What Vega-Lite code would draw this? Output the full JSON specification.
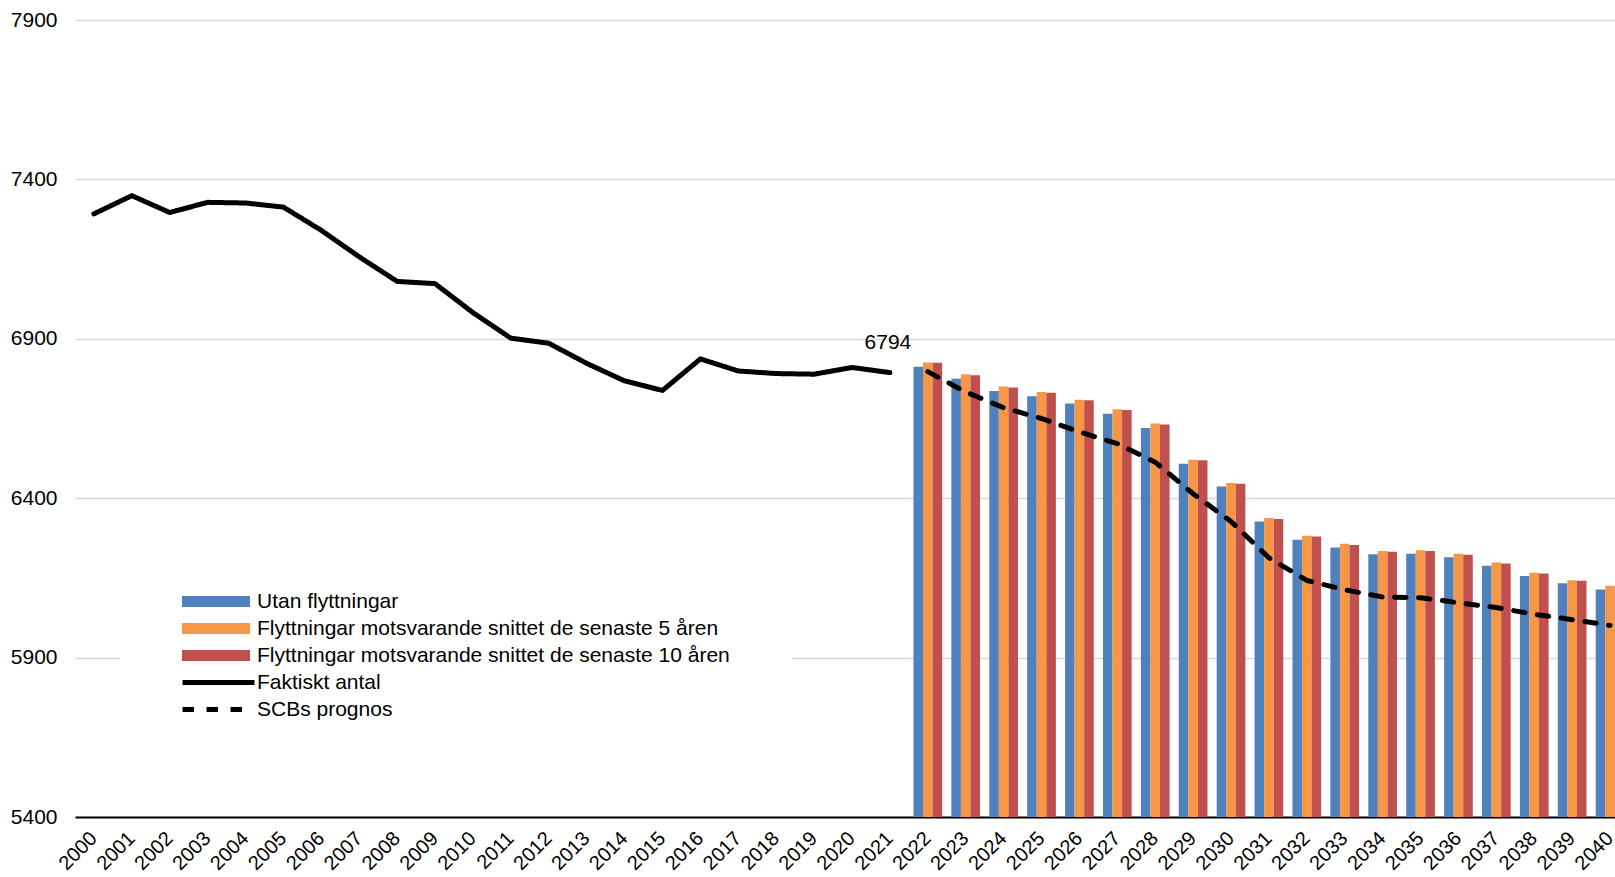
{
  "$schema": "https://vega.github.io/schema/vega-lite/v6.json",
  "width": 1554,
  "height": 797,
  "autosize": {"type": "none"},
  "padding": {"left": 75, "top": 20, "right": -14, "bottom": 60},
  "background": "white",
  "config": {"font": "Liberation Sans", "view": {"stroke": null}},
  "datasets": {
    "bars": [
      {"year": 2022, "series": "Utan flyttningar", "value": 6812},
      {"year": 2023, "series": "Utan flyttningar", "value": 6775},
      {"year": 2024, "series": "Utan flyttningar", "value": 6736},
      {"year": 2025, "series": "Utan flyttningar", "value": 6720},
      {"year": 2026, "series": "Utan flyttningar", "value": 6697},
      {"year": 2027, "series": "Utan flyttningar", "value": 6665},
      {"year": 2028, "series": "Utan flyttningar", "value": 6620},
      {"year": 2029, "series": "Utan flyttningar", "value": 6508},
      {"year": 2030, "series": "Utan flyttningar", "value": 6437},
      {"year": 2031, "series": "Utan flyttningar", "value": 6327},
      {"year": 2032, "series": "Utan flyttningar", "value": 6270},
      {"year": 2033, "series": "Utan flyttningar", "value": 6245},
      {"year": 2034, "series": "Utan flyttningar", "value": 6224},
      {"year": 2035, "series": "Utan flyttningar", "value": 6226},
      {"year": 2036, "series": "Utan flyttningar", "value": 6215},
      {"year": 2037, "series": "Utan flyttningar", "value": 6188},
      {"year": 2038, "series": "Utan flyttningar", "value": 6156},
      {"year": 2039, "series": "Utan flyttningar", "value": 6133},
      {"year": 2040, "series": "Utan flyttningar", "value": 6114},
      {"year": 2022, "series": "Flyttningar motsvarande snittet de senaste 5 åren", "value": 6826},
      {"year": 2023, "series": "Flyttningar motsvarande snittet de senaste 5 åren", "value": 6789},
      {"year": 2024, "series": "Flyttningar motsvarande snittet de senaste 5 åren", "value": 6750},
      {"year": 2025, "series": "Flyttningar motsvarande snittet de senaste 5 åren", "value": 6733},
      {"year": 2026, "series": "Flyttningar motsvarande snittet de senaste 5 åren", "value": 6709},
      {"year": 2027, "series": "Flyttningar motsvarande snittet de senaste 5 åren", "value": 6679},
      {"year": 2028, "series": "Flyttningar motsvarande snittet de senaste 5 åren", "value": 6634},
      {"year": 2029, "series": "Flyttningar motsvarande snittet de senaste 5 åren", "value": 6521},
      {"year": 2030, "series": "Flyttningar motsvarande snittet de senaste 5 åren", "value": 6448},
      {"year": 2031, "series": "Flyttningar motsvarande snittet de senaste 5 åren", "value": 6338},
      {"year": 2032, "series": "Flyttningar motsvarande snittet de senaste 5 åren", "value": 6282},
      {"year": 2033, "series": "Flyttningar motsvarande snittet de senaste 5 åren", "value": 6257},
      {"year": 2034, "series": "Flyttningar motsvarande snittet de senaste 5 åren", "value": 6234},
      {"year": 2035, "series": "Flyttningar motsvarande snittet de senaste 5 åren", "value": 6237},
      {"year": 2036, "series": "Flyttningar motsvarande snittet de senaste 5 åren", "value": 6226},
      {"year": 2037, "series": "Flyttningar motsvarande snittet de senaste 5 åren", "value": 6198},
      {"year": 2038, "series": "Flyttningar motsvarande snittet de senaste 5 åren", "value": 6166},
      {"year": 2039, "series": "Flyttningar motsvarande snittet de senaste 5 åren", "value": 6143},
      {"year": 2040, "series": "Flyttningar motsvarande snittet de senaste 5 åren", "value": 6125},
      {"year": 2022, "series": "Flyttningar motsvarande snittet de senaste 10 åren", "value": 6825},
      {"year": 2023, "series": "Flyttningar motsvarande snittet de senaste 10 åren", "value": 6786},
      {"year": 2024, "series": "Flyttningar motsvarande snittet de senaste 10 åren", "value": 6747},
      {"year": 2025, "series": "Flyttningar motsvarande snittet de senaste 10 åren", "value": 6731},
      {"year": 2026, "series": "Flyttningar motsvarande snittet de senaste 10 åren", "value": 6707},
      {"year": 2027, "series": "Flyttningar motsvarande snittet de senaste 10 åren", "value": 6677},
      {"year": 2028, "series": "Flyttningar motsvarande snittet de senaste 10 åren", "value": 6631},
      {"year": 2029, "series": "Flyttningar motsvarande snittet de senaste 10 åren", "value": 6519},
      {"year": 2030, "series": "Flyttningar motsvarande snittet de senaste 10 åren", "value": 6445},
      {"year": 2031, "series": "Flyttningar motsvarande snittet de senaste 10 åren", "value": 6335},
      {"year": 2032, "series": "Flyttningar motsvarande snittet de senaste 10 åren", "value": 6280},
      {"year": 2033, "series": "Flyttningar motsvarande snittet de senaste 10 åren", "value": 6253},
      {"year": 2034, "series": "Flyttningar motsvarande snittet de senaste 10 åren", "value": 6232},
      {"year": 2035, "series": "Flyttningar motsvarande snittet de senaste 10 åren", "value": 6234},
      {"year": 2036, "series": "Flyttningar motsvarande snittet de senaste 10 åren", "value": 6223},
      {"year": 2037, "series": "Flyttningar motsvarande snittet de senaste 10 åren", "value": 6195},
      {"year": 2038, "series": "Flyttningar motsvarande snittet de senaste 10 åren", "value": 6164},
      {"year": 2039, "series": "Flyttningar motsvarande snittet de senaste 10 åren", "value": 6141},
      {"year": 2040, "series": "Flyttningar motsvarande snittet de senaste 10 åren", "value": 6122}
    ],
    "lines": [
      {"year": 2000, "series": "Faktiskt antal", "value": 7292},
      {"year": 2001, "series": "Faktiskt antal", "value": 7349},
      {"year": 2002, "series": "Faktiskt antal", "value": 7296},
      {"year": 2003, "series": "Faktiskt antal", "value": 7328},
      {"year": 2004, "series": "Faktiskt antal", "value": 7326},
      {"year": 2005, "series": "Faktiskt antal", "value": 7313},
      {"year": 2006, "series": "Faktiskt antal", "value": 7240},
      {"year": 2007, "series": "Faktiskt antal", "value": 7157},
      {"year": 2008, "series": "Faktiskt antal", "value": 7080},
      {"year": 2009, "series": "Faktiskt antal", "value": 7073},
      {"year": 2010, "series": "Faktiskt antal", "value": 6982},
      {"year": 2011, "series": "Faktiskt antal", "value": 6902},
      {"year": 2012, "series": "Faktiskt antal", "value": 6886},
      {"year": 2013, "series": "Faktiskt antal", "value": 6823},
      {"year": 2014, "series": "Faktiskt antal", "value": 6768},
      {"year": 2015, "series": "Faktiskt antal", "value": 6738},
      {"year": 2016, "series": "Faktiskt antal", "value": 6837},
      {"year": 2017, "series": "Faktiskt antal", "value": 6799},
      {"year": 2018, "series": "Faktiskt antal", "value": 6791},
      {"year": 2019, "series": "Faktiskt antal", "value": 6789},
      {"year": 2020, "series": "Faktiskt antal", "value": 6810},
      {"year": 2021, "series": "Faktiskt antal", "value": 6794},
      {"year": 2022, "series": "SCBs prognos", "value": 6797},
      {"year": 2023, "series": "SCBs prognos", "value": 6733},
      {"year": 2024, "series": "SCBs prognos", "value": 6684},
      {"year": 2025, "series": "SCBs prognos", "value": 6650},
      {"year": 2026, "series": "SCBs prognos", "value": 6608},
      {"year": 2027, "series": "SCBs prognos", "value": 6571},
      {"year": 2028, "series": "SCBs prognos", "value": 6513},
      {"year": 2029, "series": "SCBs prognos", "value": 6414},
      {"year": 2030, "series": "SCBs prognos", "value": 6327},
      {"year": 2031, "series": "SCBs prognos", "value": 6213},
      {"year": 2032, "series": "SCBs prognos", "value": 6142},
      {"year": 2033, "series": "SCBs prognos", "value": 6113},
      {"year": 2034, "series": "SCBs prognos", "value": 6090},
      {"year": 2035, "series": "SCBs prognos", "value": 6088},
      {"year": 2036, "series": "SCBs prognos", "value": 6072},
      {"year": 2037, "series": "SCBs prognos", "value": 6057},
      {"year": 2038, "series": "SCBs prognos", "value": 6036},
      {"year": 2039, "series": "SCBs prognos", "value": 6019},
      {"year": 2040, "series": "SCBs prognos", "value": 6001}
    ]
  },
  "encoding": {
    "x": {
      "field": "year",
      "type": "ordinal",
      "scale": {"paddingInner": 0.243, "paddingOuter": 0.1215},
      "axis": {
        "title": null,
        "labelAngle": -45,
        "labelAlign": "right",
        "labelBaseline": "middle",
        "labelFontSize": 20,
        "labelPadding": 18,
        "labelDx": -4,
        "labelColor": "#000000",
        "labelOverlap": false,
        "ticks": false,
        "tickSize": 0,
        "grid": false,
        "domainColor": "#000000",
        "domainWidth": 2
      }
    },
    "y": {
      "field": "value",
      "type": "quantitative",
      "scale": {"domain": [5400, 7900], "nice": false, "zero": false},
      "axis": {
        "title": null,
        "values": [5400, 5900, 6400, 6900, 7400, 7900],
        "format": "d",
        "labelFontSize": 21,
        "labelPadding": 18,
        "labelColor": "#000000",
        "ticks": false,
        "domain": false,
        "gridColor": "#D9D9D9",
        "gridWidth": 1.5
      }
    }
  },
  "layer": [
    {
      "data": {"name": "bars"},
      "mark": {"type": "bar", "clip": true},
      "encoding": {
        "xOffset": {
          "field": "series",
          "scale": {
            "domain": ["Utan flyttningar", "Flyttningar motsvarande snittet de senaste 5 åren", "Flyttningar motsvarande snittet de senaste 10 åren"],
            "paddingInner": 0,
            "paddingOuter": 0
          }
        },
        "y2": {"datum": 5400},
        "color": {
          "field": "series",
          "type": "nominal",
          "scale": {
            "domain": ["Utan flyttningar", "Flyttningar motsvarande snittet de senaste 5 åren", "Flyttningar motsvarande snittet de senaste 10 åren"],
            "range": ["#4F81BD", "#F79646", "#C0504D"]
          },
          "legend": {
            "title": null,
            "orient": "none",
            "legendX": 45,
            "legendY": 507,
            "zindex": 1,
            "fillColor": "white",
            "padding": 62,
            "symbolType": "M-1,-0.16L1,-0.16L1,0.16L-1,0.16Z",
            "symbolSize": 4624,
            "symbolStrokeWidth": 0,
            "symbolOpacity": 1,
            "clipHeight": 25,
            "rowPadding": 2,
            "labelFontSize": 21,
            "labelOffset": 7,
            "labelLimit": 800,
            "labelColor": "#000000"
          }
        }
      }
    },
    {
      "data": {"name": "lines"},
      "mark": {"type": "line", "color": "#000000", "strokeWidth": 5, "strokeCap": "round", "strokeJoin": "round"},
      "encoding": {
        "strokeDash": {
          "field": "series",
          "type": "nominal",
          "scale": {"domain": ["Faktiskt antal", "SCBs prognos"], "range": [[1, 0], [11.5, 12.5]]},
          "legend": {
            "title": null,
            "orient": "none",
            "legendX": 105,
            "legendY": 650,
            "zindex": 2,
            "padding": 0,
            "symbolType": "stroke",
            "symbolSize": 5184,
            "symbolStrokeWidth": 5,
            "symbolStrokeColor": "#000000",
            "symbolOpacity": 1,
            "clipHeight": 25,
            "rowPadding": 2,
            "labelFontSize": 21,
            "labelOffset": 0,
            "labelLimit": 800,
            "labelColor": "#000000"
          }
        }
      }
    },
    {
      "data": {"name": "lines"},
      "transform": [{"filter": "datum.series === 'Faktiskt antal' && datum.year === 2021"}],
      "mark": {"type": "text", "fontSize": 21, "dy": -30, "dx": -2, "baseline": "middle", "align": "center", "color": "#000000"},
      "encoding": {"text": {"field": "value", "type": "quantitative", "format": "d"}}
    }
  ]
}
